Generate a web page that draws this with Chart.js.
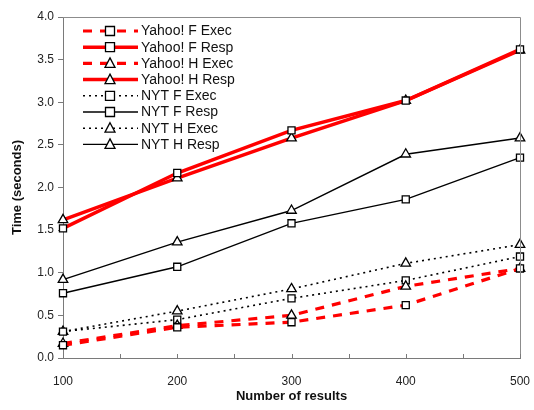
<!DOCTYPE html>
<html>
<head>
<meta charset="utf-8">
<script src="https://cdn.jsdelivr.net/npm/chart.js@4/dist/chart.umd.min.js"></script>
<style>
  body { margin: 0; background: #fff; }
  canvas { display: block; }
</style>
</head>
<body>
<canvas id="chart" width="534" height="410"></canvas>
<script>
// data
var results = [100, 200, 300, 400, 500];
var yahooFExec = [0.15, 0.36, 0.42, 0.62, 1.05];
var yahooFResp = [1.52, 2.17, 2.67, 3.02, 3.62];
var yahooHExec = [0.17, 0.38, 0.50, 0.84, 1.05];
var yahooHResp = [1.62, 2.11, 2.58, 3.02, 3.61];
var nytFExec = [0.31, 0.45, 0.70, 0.91, 1.19];
var nytFResp = [0.76, 1.07, 1.58, 1.86, 2.35];
var nytHExec = [0.31, 0.55, 0.81, 1.11, 1.33];
var nytHResp = [0.92, 1.36, 1.73, 2.39, 2.58];

var merah = '#ff0000';
var hitam = '#000000';
var abu = '#8c8c8c';
var fontName = 'Liberation Sans, Arial, sans-serif';

function pts(vals) {
  return vals.map(function (v, i) { return { x: results[i], y: v }; });
}

function series(label, vals, color, width, dash, shape) {
  return {
    label: label,
    data: pts(vals),
    borderColor: color,
    borderWidth: width,
    borderDash: dash,
    pointStyle: shape,
    pointRadius: shape === 'rect' ? 5 : 5.5,
    pointBackgroundColor: '#fff',
    pointBorderColor: hitam,
    pointBorderWidth: 1.3,
    tension: 0,
    fill: false,
    clip: false
  };
}

// frame + minor ticks on x
var framePlugin = {
  id: 'frame',
  afterDraw: function (chart) {
    var c = chart.ctx, a = chart.chartArea, sx = chart.scales.x;
    c.save();
    c.strokeStyle = abu;
    c.lineWidth = 1;
    c.beginPath();
    c.moveTo(a.left, a.top + 0.5);
    c.lineTo(a.right + 0.5, a.top + 0.5);
    c.lineTo(a.right + 0.5, a.bottom);
    c.stroke();
    c.strokeStyle = '#7a7a7a';
    for (var v = 100; v <= 500; v += 50) {
      var px = Math.round(sx.getPixelForValue(v)) + 0.5;
      c.beginPath();
      c.moveTo(px, a.bottom);
      c.lineTo(px, a.bottom - 4);
      c.stroke();
    }
    c.restore();
  }
};

// legend inside the plot, line + marker samples
var legendPlugin = {
  id: 'innerLegend',
  afterDraw: function (chart) {
    var c = chart.ctx;
    var x0 = 83, x1 = 138, xm = 110, y = 31, step = 16.2;
    c.save();
    c.font = '14px ' + fontName;
    c.textBaseline = 'middle';
    chart.data.datasets.forEach(function (ds) {
      c.strokeStyle = ds.borderColor;
      c.lineWidth = ds.borderWidth;
      c.setLineDash(ds.borderDash || []);
      c.beginPath();
      c.moveTo(x0, y);
      c.lineTo(x1, y);
      c.stroke();
      c.setLineDash([]);
      c.fillStyle = '#fff';
      c.strokeStyle = hitam;
      c.lineWidth = 1.3;
      c.beginPath();
      if (ds.pointStyle === 'rect') {
        c.rect(xm - 4.5, y - 4.5, 9, 9);
      } else {
        c.moveTo(xm, y - 5.5);
        c.lineTo(xm + 5, y + 4);
        c.lineTo(xm - 5, y + 4);
        c.closePath();
      }
      c.fill();
      c.stroke();
      c.fillStyle = '#111';
      c.fillText(ds.label, 141, y + 0.5);
      y += step;
    });
    c.restore();
  }
};

var ctx = document.getElementById('chart').getContext('2d');
var myChart = new Chart(ctx, {
  type: 'line',
  data: {
    datasets: [
      series('Yahoo! F Exec', yahooFExec, merah, 3.2, [9, 8], 'rect'),
      series('Yahoo! F Resp', yahooFResp, merah, 3.5, [], 'rect'),
      series('Yahoo! H Exec', yahooHExec, merah, 3.2, [9, 8], 'triangle'),
      series('Yahoo! H Resp', yahooHResp, merah, 3.5, [], 'triangle'),
      series('NYT F Exec', nytFExec, hitam, 1.6, [2, 4], 'rect'),
      series('NYT F Resp', nytFResp, hitam, 1.4, [], 'rect'),
      series('NYT H Exec', nytHExec, hitam, 1.6, [2, 4], 'triangle'),
      series('NYT H Resp', nytHResp, hitam, 1.4, [], 'triangle')
    ]
  },
  options: {
    responsive: false,
    animation: false,
    layout: { padding: { top: 17, right: 14, left: 0, bottom: 0 } },
    plugins: {
      legend: { display: false },
      tooltip: { enabled: false }
    },
    scales: {
      x: {
        type: 'linear',
        min: 100,
        max: 500,
        ticks: {
          stepSize: 100,
          padding: 16,
          color: '#222',
          font: { family: fontName, size: 12 }
        },
        grid: { display: false, drawTicks: false },
        border: { display: true, color: '#7a7a7a', width: 1 },
        title: {
          display: true,
          text: 'Number of results',
          color: '#111',
          font: { family: fontName, size: 13, weight: 'bold' },
          padding: { top: 8, bottom: 6 }
        },
        afterFit: function (s) {
          s.height = 52;
          s.paddingLeft = 0;
          s.paddingRight = 0;
        }
      },
      y: {
        min: 0,
        max: 4,
        ticks: {
          stepSize: 0.5,
          padding: 4,
          color: '#222',
          font: { family: fontName, size: 12 },
          callback: function (v) { return v.toFixed(1); }
        },
        grid: { drawOnChartArea: false, drawTicks: true, tickLength: 5, color: '#7a7a7a' },
        border: { display: true, color: '#7a7a7a', width: 1 },
        title: {
          display: true,
          text: 'Time (seconds)',
          color: '#111',
          font: { family: fontName, size: 13, weight: 'bold' },
          padding: { top: 10, bottom: 0 }
        },
        afterFit: function (s) {
          s.width = 63;
          s.paddingTop = 0;
          s.paddingBottom = 0;
        }
      }
    }
  },
  plugins: [framePlugin, legendPlugin]
});
</script>
</body>
</html>
